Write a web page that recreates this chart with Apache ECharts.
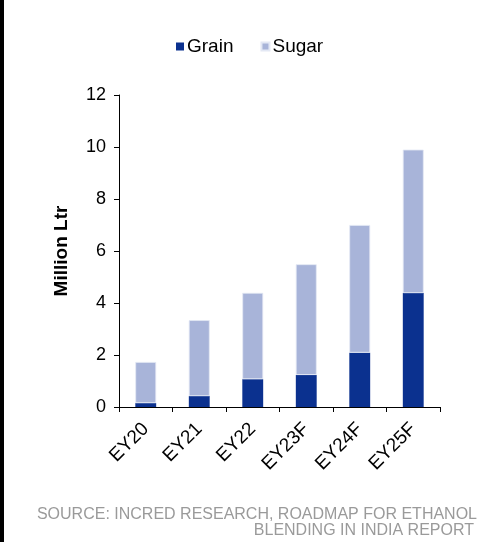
<!DOCTYPE html>
<html>
<head>
<meta charset="utf-8">
<script src="https://cdn.jsdelivr.net/npm/echarts@6/dist/echarts.min.js"></script>
<style>
  html, body { margin: 0; padding: 0; background: #fff; }
  #chart { width: 478px; height: 542px; }
</style>
</head>
<body>
<div id="chart"></div>
<script>
// Ethanol supply by feedstock, million litres
const categories = ['EY20', 'EY21', 'EY22', 'EY23F', 'EY24F', 'EY25F'];
const grain = [0.15, 0.42, 1.07, 1.23, 2.09, 4.38];
const sugar = [1.58, 2.92, 3.32, 4.26, 4.91, 5.52];
const yTicks = [0, 2, 4, 6, 8, 10, 12];

const FONT = 'Arial, "Liberation Sans", sans-serif';
const chart = echarts.init(document.getElementById('chart'), null, { renderer: 'canvas' });

chart.setOption({
  backgroundColor: '#ffffff',
  animation: false,
  textStyle: { fontFamily: FONT },
  legend: {
    top: 32,
    left: 171,
    itemWidth: 8,
    itemHeight: 8,
    itemGap: 27,
    icon: 'rect',
    textStyle: { fontFamily: FONT, fontSize: 19, color: '#000', padding: [0, 0, 0, -2] },
    data: ['Grain', 'Sugar']
  },
  grid: { left: 119, right: 38, top: 95, bottom: 135, containLabel: false },
  xAxis: {
    type: 'category',
    data: categories,
    boundaryGap: true,
    axisLine: { lineStyle: { color: '#000', width: 1 } },
    axisTick: { show: true, alignWithLabel: false, length: 5, lineStyle: { color: '#000' } },
    axisLabel: { rotate: 45, margin: 19, fontFamily: FONT, fontSize: 19, color: '#000' }
  },
  yAxis: {
    type: 'value',
    min: yTicks[0],
    max: yTicks[yTicks.length - 1],
    interval: 2,
    name: 'Million Ltr',
    nameLocation: 'middle',
    nameGap: 48,
    nameTextStyle: { fontFamily: FONT, fontSize: 19, fontWeight: 'bold', color: '#000' },
    axisLine: { show: true, lineStyle: { color: '#000', width: 1 } },
    axisTick: { show: true, length: 5, lineStyle: { color: '#000' } },
    axisLabel: { margin: 13, fontFamily: FONT, fontSize: 18, color: '#000' },
    splitLine: { show: false }
  },
  series: [
    {
      name: 'Grain',
      type: 'bar',
      stack: 'total',
      barWidth: '39%',
      data: grain,
      itemStyle: { color: '#0B318F' }
    },
    {
      name: 'Sugar',
      type: 'bar',
      stack: 'total',
      barWidth: '39%',
      data: sugar,
      itemStyle: { color: '#A8B4D9', borderColor: '#E3E8F4', borderWidth: 0.8 }
    }
  ],
  graphic: [
    {
      type: 'rect',
      left: 0, top: 0,
      shape: { x: 0, y: 0, width: 4, height: 542 },
      style: { fill: '#000' }
    },
    {
      type: 'text',
      right: 1,
      top: 507,
      style: {
        text: 'SOURCE: INCRED RESEARCH, ROADMAP FOR ETHANOL',
        align: 'right',
        fontFamily: FONT,
        fontSize: 16,
        fill: '#9a9a9a'
      }
    },
    {
      type: 'text',
      right: 4,
      top: 523,
      style: {
        text: 'BLENDING IN INDIA REPORT',
        align: 'right',
        fontFamily: FONT,
        fontSize: 16,
        fill: '#9a9a9a'
      }
    }
  ]
});
</script>
</body>
</html>
